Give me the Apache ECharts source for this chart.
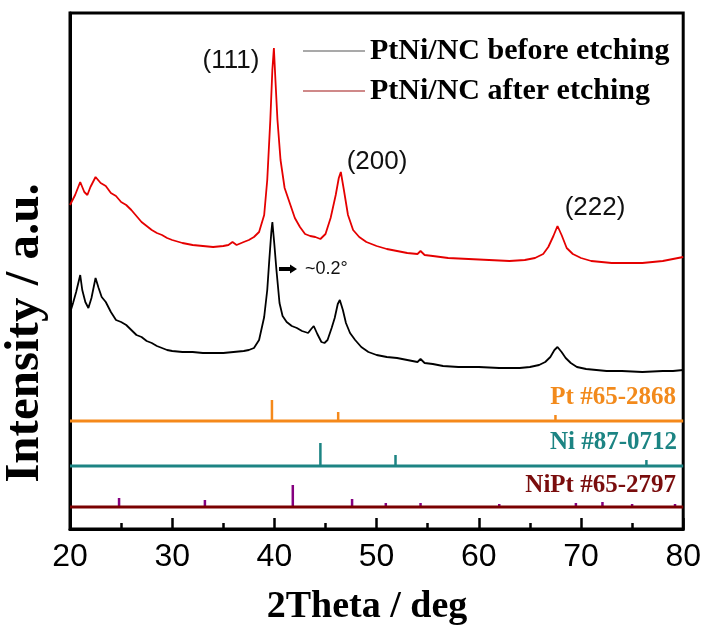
<!DOCTYPE html>
<html style="height: 100%">
<head>
<meta charset="utf-8">
<script src="https://cdn.jsdelivr.net/npm/echarts@6/dist/echarts.min.js"></script>
</head>
<body style="height: 100%; margin: 0">
<div id="chart" style="width: 704px; height: 627px"></div>
<script>
// 2theta / intensity (arbitrary units, offset curves)
var beforeTheta = [20.0, 20.3, 20.6, 21.0, 21.2, 21.5, 21.8, 22.1, 22.5, 22.8, 23.1, 23.5, 24.0, 24.5, 25.0, 25.5, 26.0, 26.5, 27.0, 27.5, 28.0, 28.5, 29.0, 29.5, 30.0, 31.0, 32.0, 33.0, 34.0, 35.0, 36.0, 37.0, 37.5, 38.0, 38.5, 39.0, 39.3, 39.5, 39.7, 39.8, 40.0, 40.2, 40.5, 40.8, 41.2, 41.7, 42.2, 42.7, 43.3, 43.6, 43.85, 44.2, 44.6, 44.9, 45.2, 45.6, 45.9, 46.2, 46.4, 46.7, 47.0, 47.4, 47.9, 48.5, 49.2, 50.0, 51.0, 52.0, 53.0, 54.0, 54.3, 54.7, 55.5, 56.5, 58.0, 60.0, 62.0, 64.0, 65.0, 65.9, 66.5, 67.0, 67.4, 67.7, 68.1, 68.5, 69.0, 69.6, 70.5, 71.5, 72.5, 74.0, 76.0, 78.0, 79.0, 80.0];
var beforeInt = [216, 226, 237, 254, 239, 227, 221, 231, 251, 241, 232, 227, 217, 209, 207, 204, 199, 194, 192, 188, 186, 183, 181, 179, 178, 177, 177, 176, 176, 176, 177, 178, 179, 181, 189, 212, 239, 269, 297, 307, 284, 259, 226, 213, 207, 203, 201, 198, 196, 200, 203, 195, 187, 186, 189, 201, 211, 225, 229, 219, 206, 196, 189, 182, 177, 174, 172, 171, 169, 167, 170, 166, 165, 163, 162, 162, 161, 161, 162, 164, 167, 172, 179, 182, 177, 171, 166, 162, 160, 159, 158, 158, 157, 158, 158, 159];

var afterTheta = [20.0, 20.5, 21.0, 21.4, 21.7, 22.0, 22.5, 23.0, 23.5, 24.0, 24.5, 25.0, 25.5, 26.0, 26.5, 27.0, 27.5, 28.0, 28.5, 29.0, 29.5, 30.0, 31.0, 32.0, 33.0, 34.0, 35.0, 35.5, 35.9, 36.3, 37.0, 37.5, 38.0, 38.5, 39.0, 39.3, 39.6, 39.8, 39.95, 40.1, 40.3, 40.6, 41.0, 41.5, 42.0, 42.5, 43.0, 43.5, 44.0, 44.5, 45.0, 45.5, 46.0, 46.3, 46.5, 46.8, 47.2, 47.7, 48.3, 49.0, 50.0, 51.0, 52.0, 53.0, 54.0, 54.3, 54.7, 55.5, 57.0, 59.0, 61.0, 63.0, 64.5, 65.5, 66.3, 66.8, 67.3, 67.7, 68.1, 68.6, 69.2, 70.0, 71.0, 72.0, 73.0, 74.0, 75.0, 76.0, 77.0, 78.0, 79.0, 80.0];
var afterInt = [324, 334, 347, 337, 334, 342, 352, 346, 343, 336, 333, 327, 324, 319, 313, 307, 303, 299, 296, 294, 291, 289, 286, 284, 283, 282, 283, 284, 287, 284, 287, 289, 292, 297, 314, 349, 409, 459, 481, 449, 409, 369, 341, 326, 311, 302, 295, 293, 292, 290, 295, 311, 334, 351, 357, 339, 314, 299, 292, 287, 283, 280, 278, 276, 275, 278, 274, 273, 271, 270, 269, 268, 269, 271, 275, 282, 293, 303, 294, 281, 275, 271, 268, 267, 266, 266, 266, 266, 267, 268, 270, 272];

// reference patterns: baseline level, stick positions and heights
var ptBase = 108;
var ptPos = [39.76, 46.24, 67.5];
var ptHeight = [21, 9, 6];
var niBase = 63;
var niPos = [44.5, 51.85, 76.4];
var niHeight = [23, 11, 6];
var niptBase = 22;
var niptPos = [24.8, 33.2, 41.8, 47.6, 50.9, 54.3, 62.0, 69.5, 72.1, 75.0, 79.2];
var niptHeight = [9, 7, 22, 8, 4, 4, 3, 4, 5, 3, 3];

var xTicks = [20, 30, 40, 50, 60, 70, 80];

function pairs(xs, ys) {
    var out = [];
    for (var i = 0; i < xs.length; i++) out.push([xs[i], ys[i]]);
    return out;
}

function sticks(name, base, pos, height, color) {
    var data = [];
    for (var i = 0; i < pos.length; i++) data.push([pos[i], base, height[i]]);
    return {
        name: name,
        type: 'custom',
        silent: true,
        data: data,
        renderItem: function (params, api) {
            var p0 = api.coord([api.value(0), api.value(1)]);
            var p1 = api.coord([api.value(0), api.value(1) + api.value(2)]);
            return {
                type: 'line',
                shape: { x1: p0[0], y1: p0[1], x2: p1[0], y2: p1[1] },
                style: { stroke: color, lineWidth: 2.5 }
            };
        }
    };
}

function baseline(name, base, color) {
    return {
        name: name,
        type: 'line',
        symbol: 'none',
        silent: true,
        data: [[20, base], [80, base]],
        lineStyle: { color: color, width: 3 }
    };
}

var serif = 'Liberation Serif';
var sans = 'Liberation Sans';

var chart = echarts.init(document.getElementById('chart'));
chart.setOption({
    backgroundColor: '#fff',
    animation: false,
    grid: { left: 70, right: 20, top: 13, bottom: 98, show: true, borderColor: '#000', borderWidth: 3 },
    legend: {
        orient: 'vertical',
        left: 298,
        top: 31,
        icon: 'rect',
        itemWidth: 62,
        itemHeight: 1.2,
        itemGap: 10,
        textStyle: { fontFamily: serif, fontWeight: 'bold', fontSize: 30, color: '#000' },
        data: [
            { name: 'PtNi/NC before etching', itemStyle: { color: '#555' } },
            { name: 'PtNi/NC after etching', itemStyle: { color: '#a01515' } }
        ]
    },
    xAxis: {
        type: 'value',
        min: 20,
        max: 80,
        interval: 10,
        axisLine: { lineStyle: { color: '#000', width: 3 } },
        axisTick: { inside: true, length: 11, lineStyle: { color: '#000', width: 2.5 } },
        minorTick: { show: true, splitNumber: 2, length: 6, lineStyle: { color: '#000', width: 2.5 } },
        splitLine: { show: false },
        axisLabel: {
            margin: 12,
            fontFamily: sans,
            fontSize: 32,
            color: '#000',
            formatter: function (v) { return xTicks.indexOf(v) >= 0 ? String(v) : ''; }
        }
    },
    yAxis: {
        type: 'value',
        min: 0,
        max: 516,
        axisLine: { show: true, lineStyle: { color: '#000', width: 3 } },
        axisTick: { show: false },
        axisLabel: { show: false },
        splitLine: { show: false }
    },
    graphic: [
        { type: 'text', x: 25, y: 333, rotation: Math.PI / 2,
          style: { text: 'Intensity / a.u.', fontFamily: serif, fontWeight: 'bold', fontSize: 49, fill: '#000', align: 'center', verticalAlign: 'middle' } },
        { type: 'text', x: 367, y: 607,
          style: { text: '2Theta / deg', fontFamily: serif, fontWeight: 'bold', fontSize: 38, fill: '#000', align: 'center', verticalAlign: 'middle' } },
        { type: 'text', x: 231, y: 61,
          style: { text: '(111)', fontFamily: sans, fontSize: 26, fill: '#111', align: 'center', verticalAlign: 'middle' } },
        { type: 'text', x: 377, y: 162,
          style: { text: '(200)', fontFamily: sans, fontSize: 26, fill: '#111', align: 'center', verticalAlign: 'middle' } },
        { type: 'text', x: 595, y: 208,
          style: { text: '(222)', fontFamily: sans, fontSize: 26, fill: '#111', align: 'center', verticalAlign: 'middle' } },
        { type: 'polygon',
          shape: { points: [[279, 267], [290, 267], [290, 264.5], [297, 269], [290, 273.5], [290, 271], [279, 271]] },
          style: { fill: '#000' } },
        { type: 'text', x: 305, y: 269,
          style: { text: '~0.2°', fontFamily: sans, fontSize: 18, fill: '#111', align: 'left', verticalAlign: 'middle' } },
        { type: 'text', x: 676, y: 398,
          style: { text: 'Pt #65-2868', fontFamily: serif, fontWeight: 'bold', fontSize: 25, fill: '#f28a1c', align: 'right', verticalAlign: 'middle' } },
        { type: 'text', x: 677, y: 443,
          style: { text: 'Ni #87-0712', fontFamily: serif, fontWeight: 'bold', fontSize: 25, fill: '#1c8483', align: 'right', verticalAlign: 'middle' } },
        { type: 'text', x: 676, y: 486,
          style: { text: 'NiPt #65-2797', fontFamily: serif, fontWeight: 'bold', fontSize: 25, fill: '#7a0d0d', align: 'right', verticalAlign: 'middle' } }
    ],
    series: [
        {
            name: 'PtNi/NC before etching',
            type: 'line',
            symbol: 'none',
            data: pairs(beforeTheta, beforeInt),
            lineStyle: { color: '#000', width: 1.8 },
            itemStyle: { color: '#000' }
        },
        {
            name: 'PtNi/NC after etching',
            type: 'line',
            symbol: 'none',
            data: pairs(afterTheta, afterInt),
            lineStyle: { color: '#e50000', width: 1.8 },
            itemStyle: { color: '#e50000' }
        },
        baseline('Pt line', ptBase, '#f5891a'),
        sticks('Pt', ptBase, ptPos, ptHeight, '#f5891a'),
        baseline('Ni line', niBase, '#1c8483'),
        sticks('Ni', niBase, niPos, niHeight, '#1c8483'),
        baseline('NiPt line', niptBase, '#7a0000'),
        sticks('NiPt', niptBase, niptPos, niptHeight, '#85007f')
    ]
});
</script>
</body>
</html>
